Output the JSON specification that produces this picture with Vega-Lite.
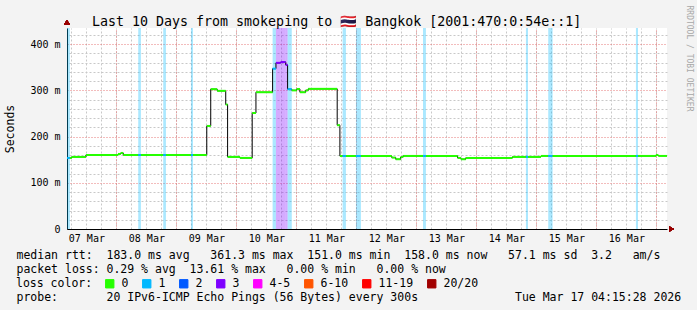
{
  "$schema": "https://vega.github.io/schema/vega-lite/v6.json",
  "autosize": {"type": "none"},
  "padding": {"left": 67, "top": 28, "right": 30, "bottom": 81},
  "width": 600,
  "height": 201,
  "background": "#f3f3f3",
  "config": {
    "font": "DejaVu Sans Mono",
    "view": {"fill": "white", "stroke": null}
  },
  "title": {
    "text": "Last 10 Days from smokeping to 🇹🇭 Bangkok [2001:470:0:54e::1]",
    "anchor": "start",
    "frame": "group",
    "dx": 25,
    "dy": 39,
    "font": "DejaVu Sans Mono",
    "fontSize": 13.3,
    "fontWeight": "normal",
    "color": "#000000",
    "baseline": "alphabetic",
    "offset": 5
  },
  "data": {
    "values": [
      {"t0": "2026-03-07T04:15:28Z", "t1": "2026-03-07T05:25:00Z", "rtt": 153.8, "loss": "1"},
      {"t0": "2026-03-07T05:25:00Z", "t1": "2026-03-07T06:10:00Z", "rtt": 153.8, "loss": "0"},
      {"t0": "2026-03-07T06:10:00Z", "t1": "2026-03-07T11:50:00Z", "rtt": 156.0, "loss": "0"},
      {"t0": "2026-03-07T11:50:00Z", "t1": "2026-03-08T00:40:00Z", "rtt": 160.3, "loss": "0"},
      {"t0": "2026-03-08T00:40:00Z", "t1": "2026-03-08T01:45:00Z", "rtt": 162.4, "loss": "0"},
      {"t0": "2026-03-08T01:45:00Z", "t1": "2026-03-08T02:45:00Z", "rtt": 164.6, "loss": "0"},
      {"t0": "2026-03-08T02:45:00Z", "t1": "2026-03-08T08:45:00Z", "rtt": 160.2, "loss": "0"},
      {"t0": "2026-03-08T08:45:00Z", "t1": "2026-03-08T09:50:00Z", "rtt": 160.2, "loss": "1"},
      {"t0": "2026-03-08T09:50:00Z", "t1": "2026-03-08T18:45:00Z", "rtt": 160.2, "loss": "0"},
      {"t0": "2026-03-08T18:45:00Z", "t1": "2026-03-08T19:50:00Z", "rtt": 160.2, "loss": "1"},
      {"t0": "2026-03-08T19:50:00Z", "t1": "2026-03-09T05:50:00Z", "rtt": 160.2, "loss": "0"},
      {"t0": "2026-03-09T05:50:00Z", "t1": "2026-03-09T06:40:00Z", "rtt": 160.2, "loss": "1"},
      {"t0": "2026-03-09T06:40:00Z", "t1": "2026-03-09T12:10:00Z", "rtt": 160.2, "loss": "0"},
      {"t0": "2026-03-09T12:10:00Z", "t1": "2026-03-09T13:45:00Z", "rtt": 223.0, "loss": "0"},
      {"t0": "2026-03-09T13:45:00Z", "t1": "2026-03-09T16:20:00Z", "rtt": 302.6, "loss": "0"},
      {"t0": "2026-03-09T16:20:00Z", "t1": "2026-03-09T19:45:00Z", "rtt": 299.0, "loss": "0"},
      {"t0": "2026-03-09T19:45:00Z", "t1": "2026-03-09T20:30:00Z", "rtt": 269.4, "loss": "0"},
      {"t0": "2026-03-09T20:30:00Z", "t1": "2026-03-10T01:25:00Z", "rtt": 156.0, "loss": "0"},
      {"t0": "2026-03-10T01:25:00Z", "t1": "2026-03-10T06:20:00Z", "rtt": 153.8, "loss": "0"},
      {"t0": "2026-03-10T06:20:00Z", "t1": "2026-03-10T07:50:00Z", "rtt": 251.0, "loss": "0"},
      {"t0": "2026-03-10T07:50:00Z", "t1": "2026-03-10T14:30:00Z", "rtt": 296.0, "loss": "0"},
      {"t0": "2026-03-10T14:30:00Z", "t1": "2026-03-10T15:50:00Z", "rtt": 347.0, "loss": "1"},
      {"t0": "2026-03-10T15:50:00Z", "t1": "2026-03-10T17:45:00Z", "rtt": 359.6, "loss": "3"},
      {"t0": "2026-03-10T17:45:00Z", "t1": "2026-03-10T19:45:00Z", "rtt": 361.3, "loss": "3"},
      {"t0": "2026-03-10T19:45:00Z", "t1": "2026-03-10T20:30:00Z", "rtt": 355.0, "loss": "3"},
      {"t0": "2026-03-10T20:30:00Z", "t1": "2026-03-10T22:10:00Z", "rtt": 302.6, "loss": "1"},
      {"t0": "2026-03-10T22:10:00Z", "t1": "2026-03-11T00:10:00Z", "rtt": 300.0, "loss": "0"},
      {"t0": "2026-03-11T00:10:00Z", "t1": "2026-03-11T01:25:00Z", "rtt": 303.0, "loss": "0"},
      {"t0": "2026-03-11T01:25:00Z", "t1": "2026-03-11T03:45:00Z", "rtt": 296.0, "loss": "0"},
      {"t0": "2026-03-11T03:45:00Z", "t1": "2026-03-11T04:45:00Z", "rtt": 300.0, "loss": "0"},
      {"t0": "2026-03-11T04:45:00Z", "t1": "2026-03-11T16:20:00Z", "rtt": 303.3, "loss": "0"},
      {"t0": "2026-03-11T16:20:00Z", "t1": "2026-03-11T17:25:00Z", "rtt": 224.6, "loss": "0"},
      {"t0": "2026-03-11T17:25:00Z", "t1": "2026-03-11T18:30:00Z", "rtt": 158.0, "loss": "0"},
      {"t0": "2026-03-11T18:30:00Z", "t1": "2026-03-11T19:50:00Z", "rtt": 158.0, "loss": "1"},
      {"t0": "2026-03-11T19:50:00Z", "t1": "2026-03-11T23:50:00Z", "rtt": 158.0, "loss": "0"},
      {"t0": "2026-03-11T23:50:00Z", "t1": "2026-03-12T01:50:00Z", "rtt": 158.0, "loss": "1"},
      {"t0": "2026-03-12T01:50:00Z", "t1": "2026-03-12T14:10:00Z", "rtt": 158.0, "loss": "0"},
      {"t0": "2026-03-12T14:10:00Z", "t1": "2026-03-12T15:45:00Z", "rtt": 154.6, "loss": "0"},
      {"t0": "2026-03-12T15:45:00Z", "t1": "2026-03-12T17:45:00Z", "rtt": 151.0, "loss": "0"},
      {"t0": "2026-03-12T17:45:00Z", "t1": "2026-03-12T18:45:00Z", "rtt": 155.9, "loss": "0"},
      {"t0": "2026-03-12T18:45:00Z", "t1": "2026-03-13T02:40:00Z", "rtt": 158.1, "loss": "0"},
      {"t0": "2026-03-13T02:40:00Z", "t1": "2026-03-13T03:50:00Z", "rtt": 158.1, "loss": "1"},
      {"t0": "2026-03-13T03:50:00Z", "t1": "2026-03-13T16:30:00Z", "rtt": 158.1, "loss": "0"},
      {"t0": "2026-03-13T16:30:00Z", "t1": "2026-03-13T17:50:00Z", "rtt": 153.8, "loss": "0"},
      {"t0": "2026-03-13T17:50:00Z", "t1": "2026-03-13T19:45:00Z", "rtt": 151.0, "loss": "0"},
      {"t0": "2026-03-13T19:45:00Z", "t1": "2026-03-14T14:25:00Z", "rtt": 153.8, "loss": "0"},
      {"t0": "2026-03-14T14:25:00Z", "t1": "2026-03-14T19:50:00Z", "rtt": 156.0, "loss": "0"},
      {"t0": "2026-03-14T19:50:00Z", "t1": "2026-03-14T20:40:00Z", "rtt": 156.0, "loss": "1"},
      {"t0": "2026-03-14T20:40:00Z", "t1": "2026-03-15T01:50:00Z", "rtt": 156.0, "loss": "0"},
      {"t0": "2026-03-15T01:50:00Z", "t1": "2026-03-15T04:45:00Z", "rtt": 158.1, "loss": "0"},
      {"t0": "2026-03-15T04:45:00Z", "t1": "2026-03-15T06:30:00Z", "rtt": 158.1, "loss": "1"},
      {"t0": "2026-03-15T06:30:00Z", "t1": "2026-03-16T15:50:00Z", "rtt": 158.1, "loss": "0"},
      {"t0": "2026-03-16T15:50:00Z", "t1": "2026-03-16T16:40:00Z", "rtt": 158.1, "loss": "1"},
      {"t0": "2026-03-16T16:40:00Z", "t1": "2026-03-16T23:50:00Z", "rtt": 158.1, "loss": "0"},
      {"t0": "2026-03-16T23:50:00Z", "t1": "2026-03-17T00:45:00Z", "rtt": 160.2, "loss": "0"},
      {"t0": "2026-03-17T00:45:00Z", "t1": "2026-03-17T04:15:28Z", "rtt": 158.1, "loss": "0"}
    ]
  },
  "resolve": {"axis": {"x": "independent", "y": "independent"}},
  "layer": [
    {
      "transform": [{"filter": "datum.loss != '0'"}],
      "mark": {"type": "rect", "fillOpacity": 0.33},
      "encoding": {
        "x": {
          "field": "t0", "type": "temporal",
          "scale": {"type": "utc", "domain": [
            {"year": 2026, "month": 3, "date": 7, "hours": 4, "minutes": 15, "seconds": 28, "utc": true},
            {"year": 2026, "month": 3, "date": 17, "hours": 4, "minutes": 15, "seconds": 28, "utc": true}
          ]},
          "axis": {"orient": "top", "grid": true, "gridColor": "#c8c8c8", "gridDash": [2, 2], "tickCount": 40, "labels": false, "ticks": false, "domain": false, "title": null}
        },
        "x2": {"field": "t1"},
        "y": {
          "datum": 0, "type": "quantitative",
          "scale": {"domain": [0, 435], "nice": false, "zero": true},
          "axis": {"orient": "right", "grid": true, "gridColor": "#c8c8c8", "gridDash": [2, 2],
            "values": [20, 40, 60, 80, 120, 140, 160, 180, 220, 240, 260, 280, 320, 340, 360, 380, 420],
            "labels": false, "ticks": false, "domain": false,
            "title": "RRDTOOL / TOBI OETIKER", "titleAngle": 90, "titleAlign": "left", "titleBaseline": "middle",
            "titleX": 21, "titleY": -23, "titleFont": "DejaVu Sans Mono", "titleFontSize": 8, "titleFontWeight": "normal", "titleColor": "#a8a8a8"}
        },
        "y2": {"datum": 435},
        "fill": {
          "field": "loss", "type": "nominal",
          "scale": {"domain": ["0", "1", "2", "3", "4-5", "6-10", "11-19", "20/20"],
                    "range": ["#26ff00", "#00b8ff", "#0059ff", "#7e00ff", "#ff00ff", "#ff5500", "#ff0000", "#a10000"]},
          "legend": {
            "orient": "none", "legendX": -51, "legendY": 250, "direction": "horizontal",
            "title": "loss color:", "titleOrient": "left", "titleFont": "DejaVu Sans Mono", "titleFontSize": 11.5,
            "titleFontWeight": "normal", "titleColor": "#000000", "titlePadding": 11,
            "labelFont": "DejaVu Sans Mono", "labelFontSize": 11.5, "labelColor": "#000000", "labelOffset": 6,
            "symbolType": "square", "symbolSize": 70, "symbolStrokeColor": "#000000", "symbolStrokeWidth": 1,
            "symbolOpacity": 1, "columnPadding": 11, "padding": 0
          }
        }
      }
    },
    {
      "mark": {"type": "line", "interpolate": "step-after", "color": "#000000", "strokeWidth": 1},
      "encoding": {
        "x": {
          "field": "t0", "type": "temporal",
          "axis": {"orient": "top", "grid": true, "gridColor": "#e67878", "gridDash": [1, 2], "tickCount": 10, "labels": false, "ticks": false, "domain": false,
            "title": "probe:\u00a0\u00a0\u00a0\u00a0\u00a0\u00a0\u00a020 IPv6-ICMP Echo Pings (56 Bytes) every 300s\u00a0\u00a0\u00a0\u00a0\u00a0\u00a0\u00a0\u00a0\u00a0\u00a0\u00a0\u00a0\u00a0\u00a0Tue Mar 17 04:15:28 2026",
            "titleFont": "DejaVu Sans Mono", "titleFontSize": 11.5, "titleFontWeight": "normal", "titleColor": "#000000",
            "titleAnchor": "start", "titleAlign": "left", "titleBaseline": "alphabetic", "titleX": -51, "titleY": 272}
        },
        "y": {
          "field": "rtt", "type": "quantitative",
          "axis": {"orient": "left", "grid": true, "gridColor": "#e67878", "gridDash": [1, 2],
            "values": [0, 100, 200, 300, 400],
            "labelExpr": "datum.value == 0 ? '0' : datum.value + ' m'",
            "labelFont": "DejaVu Sans Mono", "labelFontSize": 10, "labelColor": "#000000", "labelPadding": 7,
            "ticks": false, "domain": true, "domainColor": "#000000",
            "title": "Seconds", "titleFont": "DejaVu Sans Mono", "titleFontSize": 11.5, "titleFontWeight": "normal",
            "titleColor": "#000000", "titleX": -57, "titleBaseline": "middle"}
        }
      }
    },
    {
      "mark": {"type": "rule", "strokeWidth": 2},
      "encoding": {
        "x": {
          "field": "t0", "type": "temporal",
          "axis": {
            "orient": "bottom", "grid": false, "ticks": false, "domain": true, "domainColor": "#000000",
            "values": [
              {"year": 2026, "month": 3, "date": 7, "hours": 12, "utc": true},
              {"year": 2026, "month": 3, "date": 8, "hours": 12, "utc": true},
              {"year": 2026, "month": 3, "date": 9, "hours": 12, "utc": true},
              {"year": 2026, "month": 3, "date": 10, "hours": 12, "utc": true},
              {"year": 2026, "month": 3, "date": 11, "hours": 12, "utc": true},
              {"year": 2026, "month": 3, "date": 12, "hours": 12, "utc": true},
              {"year": 2026, "month": 3, "date": 13, "hours": 12, "utc": true},
              {"year": 2026, "month": 3, "date": 14, "hours": 12, "utc": true},
              {"year": 2026, "month": 3, "date": 15, "hours": 12, "utc": true},
              {"year": 2026, "month": 3, "date": 16, "hours": 12, "utc": true}
            ],
            "format": "%d %b", "labelFont": "DejaVu Sans Mono", "labelFontSize": 10, "labelColor": "#000000", "labelPadding": 4,
            "title": [
              "median rtt:\u00a0\u00a0183.0 ms avg\u00a0\u00a0\u00a0361.3 ms max\u00a0\u00a0151.0 ms min\u00a0\u00a0158.0 ms now\u00a0\u00a0\u00a057.1 ms sd\u00a0\u00a03.2\u00a0\u00a0\u00a0am/s",
              "packet loss: 0.29 % avg\u00a0\u00a013.61 % max\u00a0\u00a0\u00a00.00 % min\u00a0\u00a0\u00a00.00 % now"
            ],
            "titleFont": "DejaVu Sans Mono", "titleFontSize": 11.5, "titleFontWeight": "normal", "titleColor": "#000000",
            "titleAnchor": "start", "titleAlign": "left", "titleBaseline": "alphabetic", "titleX": -51, "titleY": 29.5, "titleLineHeight": 14
          }
        },
        "x2": {"field": "t1"},
        "y": {"field": "rtt", "type": "quantitative", "axis": null},
        "stroke": {
          "field": "loss", "type": "nominal",
          "scale": {"domain": ["0", "1", "2", "3", "4-5", "6-10", "11-19", "20/20"],
                    "range": ["#26ff00", "#00b8ff", "#0059ff", "#7e00ff", "#ff00ff", "#ff5500", "#ff0000", "#a10000"]},
          "legend": null
        }
      }
    },
    {
      "mark": {"type": "point", "shape": "triangle-right", "filled": true, "color": "#990000", "size": 30, "opacity": 1},
      "encoding": {
        "x": {"datum": {"year": 2026, "month": 3, "date": 17, "hours": 6, "utc": true}, "type": "temporal", "axis": null},
        "y": {"datum": 0, "type": "quantitative", "axis": null}
      }
    },
    {
      "mark": {"type": "point", "shape": "triangle-up", "filled": true, "color": "#990000", "size": 30, "opacity": 1},
      "encoding": {
        "x": {"datum": {"year": 2026, "month": 3, "date": 7, "hours": 4, "minutes": 15, "seconds": 28, "utc": true}, "type": "temporal", "axis": null},
        "y": {"datum": 447, "type": "quantitative", "axis": null}
      }
    }
  ]
}
